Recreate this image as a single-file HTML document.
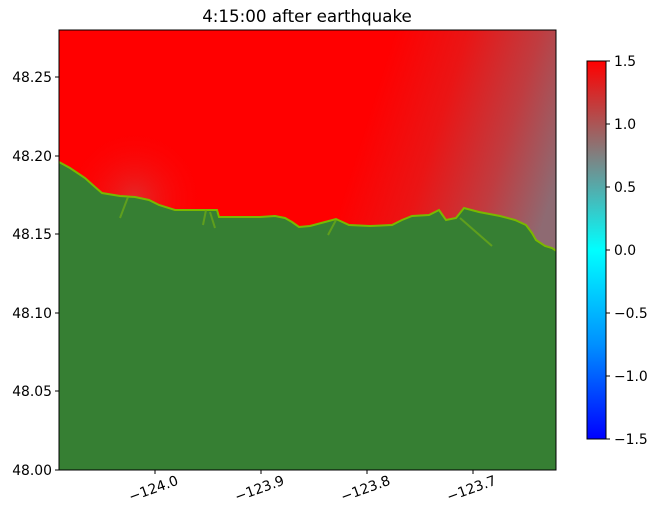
<!DOCTYPE html>
<html><head><style>
body{margin:0;background:#fff;}
svg{display:block;font-family:"DejaVu Sans","Liberation Sans",sans-serif;}
</style></head><body>
<svg width="658" height="520" xmlns="http://www.w3.org/2000/svg">
<defs>
<linearGradient id="sea" x1="370" y1="110" x2="560" y2="170" gradientUnits="userSpaceOnUse">
<stop offset="0" stop-color="#ff0000"/>
<stop offset="0.35" stop-color="#ea1515"/>
<stop offset="0.7" stop-color="#c03c40"/>
<stop offset="1" stop-color="#8e6a72"/>
</linearGradient>
<radialGradient id="blob" cx="135" cy="198" r="70" gradientUnits="userSpaceOnUse">
<stop offset="0" stop-color="#c85050" stop-opacity="0.5"/>
<stop offset="1" stop-color="#ff0000" stop-opacity="0"/>
</radialGradient>
<linearGradient id="cb" x1="0" y1="0" x2="0" y2="1">
<stop offset="0" stop-color="#ff0000"/>
<stop offset="0.25" stop-color="#808080"/>
<stop offset="0.5" stop-color="#00ffff"/>
<stop offset="0.75" stop-color="#0090ff"/>
<stop offset="1" stop-color="#0000ff"/>
</linearGradient>
<clipPath id="pc"><rect x="59" y="30" width="497" height="440"/></clipPath>
</defs>
<text x="307" y="22" font-size="16.7" text-anchor="middle">4:15:00 after earthquake</text>
<g clip-path="url(#pc)">
<rect x="59" y="30" width="497" height="440" fill="url(#sea)"/>
<rect x="59" y="120" width="160" height="120" fill="url(#blob)"/>
<polygon fill="#367f33" stroke="#7ab800" stroke-width="2" points="56,160 59,162 70,168 85,178 95,187 102,193 120,196 135,197 149,200 159,205 175,210 192,210 205,210 217,210 219,217 240,217 260,217 275,216 285,218 292,222 299,227 310,226 325,222 336,219 349,225 370,226 392,225 402,220 412,216 429,215 439,210 446,220 456,218 464,208 479,212 500,216 515,220 526,225 532,233 536,240 545,246 552,248 558,252 558,472 56,472"/>
<g stroke="#6aa818" stroke-width="2" fill="none" opacity="0.8">
<path d="M128,197 L120,218"/><path d="M206,210 L203,225"/><path d="M210,212 L215,228"/>
<path d="M336,220 L328,235"/><path d="M460,218 L492,246"/>
</g>
</g>
<rect x="59" y="30" width="497" height="440" fill="none" stroke="#000" stroke-width="1"/>
<g font-size="13.9" text-anchor="end">
<g stroke="#000"><line x1="55" y1="77" x2="59" y2="77"/><line x1="55" y1="156" x2="59" y2="156"/><line x1="55" y1="234" x2="59" y2="234"/><line x1="55" y1="313" x2="59" y2="313"/><line x1="55" y1="391" x2="59" y2="391"/><line x1="55" y1="470" x2="59" y2="470"/></g>
<text x="52" y="82">48.25</text><text x="52" y="161">48.20</text><text x="52" y="239">48.15</text><text x="52" y="318">48.10</text><text x="52" y="396">48.05</text><text x="52" y="475">48.00</text>
</g>
<g stroke="#000"><line x1="155" y1="470" x2="155" y2="474"/><line x1="261" y1="470" x2="261" y2="474"/><line x1="367" y1="470" x2="367" y2="474"/><line x1="473" y1="470" x2="473" y2="474"/></g>
<g font-size="13.9" text-anchor="middle">
<text transform="translate(155,493) rotate(-20)">−124.0</text>
<text transform="translate(261,493) rotate(-20)">−123.9</text>
<text transform="translate(367,493) rotate(-20)">−123.8</text>
<text transform="translate(473,493) rotate(-20)">−123.7</text>
</g>
<rect x="587" y="61" width="19" height="378" fill="url(#cb)" stroke="#000" stroke-width="1"/>
<g stroke="#000"><line x1="606" y1="61" x2="610" y2="61"/><line x1="606" y1="124" x2="610" y2="124"/><line x1="606" y1="187" x2="610" y2="187"/><line x1="606" y1="250" x2="610" y2="250"/><line x1="606" y1="313" x2="610" y2="313"/><line x1="606" y1="376" x2="610" y2="376"/><line x1="606" y1="439" x2="610" y2="439"/></g>
<g font-size="13.9">
<text x="614" y="66">1.5</text><text x="614" y="129">1.0</text><text x="614" y="192">0.5</text><text x="614" y="255">0.0</text><text x="614" y="318">−0.5</text><text x="614" y="381">−1.0</text><text x="614" y="444">−1.5</text>
</g>
</svg>
</body></html>
